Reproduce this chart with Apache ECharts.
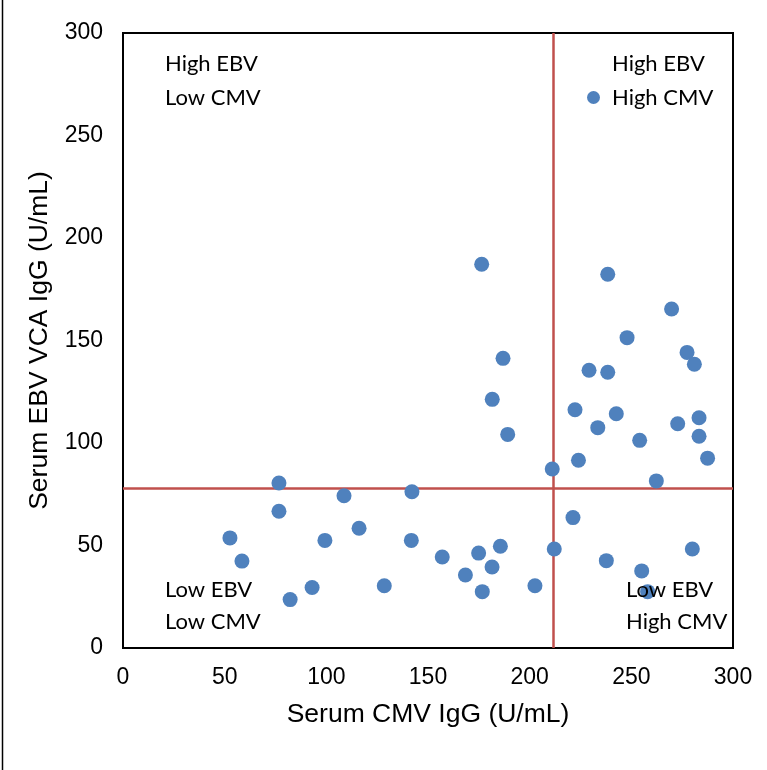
<!DOCTYPE html>
<html>
<head>
<meta charset="utf-8">
<script src="https://cdn.jsdelivr.net/npm/echarts@6/dist/echarts.min.js"></script>
<style>
html,body{margin:0;padding:0;background:#fff;}
#chart{width:767px;height:770px;}
</style>
</head>
<body>
<div id="chart"></div>
<script>
// Serum CMV IgG (x) and EBV VCA IgG (y), U/mL
var cmv = [52.6, 58.5, 76.7, 76.7, 82.2, 93.0, 99.3, 108.7, 116.1, 128.5,
           142.1, 141.8, 157.0, 168.4, 174.9, 181.5, 176.7, 185.6, 202.6, 211.1,
           212.1, 221.3, 237.7, 255.1, 280.0, 258.0, 262.3, 224.0, 287.5, 238.4,
           269.8, 247.9, 277.4, 281.0, 229.2, 238.4, 222.3, 242.6, 233.5, 272.8,
           283.3, 283.3, 254.1, 176.4, 186.9, 181.6, 189.2];
var ebv = [53.7, 42.4, 80.5, 66.7, 23.6, 29.5, 52.5, 74.3, 58.4, 30.4,
           76.2, 52.5, 44.4, 35.6, 46.3, 39.5, 27.5, 49.6, 30.4, 87.3,
           48.3, 63.6, 42.6, 37.6, 48.3, 27.5, 81.5, 91.6, 92.6, 182.3,
           165.4, 151.4, 144.2, 138.4, 135.5, 134.5, 116.2, 114.3, 107.5, 109.4,
           112.3, 103.3, 101.3, 187.2, 141.3, 121.3, 104.2];
var cmvCutoff = 211.5;
var ebvCutoff = 78;
var xTicks = [0, 300, 50];   // min, max, interval
var yTicks = [0, 300, 50];
var xTitle = 'Serum CMV IgG (U/mL)';
var yTitle = 'Serum EBV VCA IgG (U/mL)';
var quadLabels = [
  ['High EBV', 'Low CMV'],
  ['High EBV', 'High CMV'],
  ['Low EBV', 'Low CMV'],
  ['Low EBV', 'High CMV']
];

var points = cmv.map(function (v, i) { return [v, ebv[i]]; });

var chart = echarts.init(document.getElementById('chart'), null, {renderer: 'canvas'});
var qFont = {fontFamily: 'Lato', fontSize: 22, fill: '#000'};
function qText(x, y, t) {
  return {type: 'text', left: x, top: y, z: 100,
          style: Object.assign({text: t}, qFont)};
}
var option = {
  animation: false,
  backgroundColor: '#fff',
  grid: {left: 123, right: 34, top: 33, bottom: 122, show: true,
         borderColor: '#000', borderWidth: 2, backgroundColor: 'transparent'},
  legend: {
    data: [{name: 'EBV', icon: 'circle'}],
    left: 587, top: 91, padding: 0, itemWidth: 13, itemHeight: 13,
    formatter: function () { return ''; }, selectedMode: false
  },
  xAxis: {
    type: 'value', min: xTicks[0], max: xTicks[1], interval: xTicks[2],
    name: xTitle, nameLocation: 'middle', nameGap: 53,
    nameTextStyle: {fontFamily: 'Liberation Sans', fontSize: 26.5, color: '#000'},
    axisLine: {show: true, lineStyle: {color: '#000', width: 2}},
    axisTick: {show: false},
    splitLine: {show: false},
    axisLabel: {fontFamily: 'Liberation Sans', fontSize: 23, color: '#000', margin: 18}
  },
  yAxis: {
    type: 'value', min: yTicks[0], max: yTicks[1], interval: yTicks[2],
    name: yTitle, nameLocation: 'middle', nameGap: 70,
    nameTextStyle: {fontFamily: 'Liberation Sans', fontSize: 26.5, color: '#000'},
    axisLine: {show: true, lineStyle: {color: '#000', width: 2}},
    axisTick: {show: false},
    splitLine: {show: false},
    axisLabel: {fontFamily: 'Liberation Sans', fontSize: 23, color: '#000', margin: 20}
  },
  series: [{
    name: 'EBV',
    type: 'scatter',
    data: points,
    symbol: 'circle',
    symbolSize: 15,
    itemStyle: {color: '#4F81BD', opacity: 1},
    z: 3,
    markLine: {
      silent: true,
      symbol: ['none', 'none'],
      label: {show: false},
      lineStyle: {color: '#C0504D', width: 2.5, type: 'solid'},
      z: 2,
      data: [{xAxis: cmvCutoff}, {yAxis: ebvCutoff}]
    }
  }],
  graphic: [
    {type: 'line', z: 100, shape: {x1: 2.5, y1: 0, x2: 2.5, y2: 770}, style: {stroke: '#000', lineWidth: 1.5}},
    qText(165, 53, quadLabels[0][0]),
    qText(165, 87, quadLabels[0][1]),
    qText(612, 53, quadLabels[1][0]),
    qText(612, 87, quadLabels[1][1]),
    qText(165, 579, quadLabels[2][0]),
    qText(165, 611, quadLabels[2][1]),
    qText(626, 579, quadLabels[3][0]),
    qText(626, 611, quadLabels[3][1])
  ]
};
chart.setOption(option);
</script>
</body>
</html>
